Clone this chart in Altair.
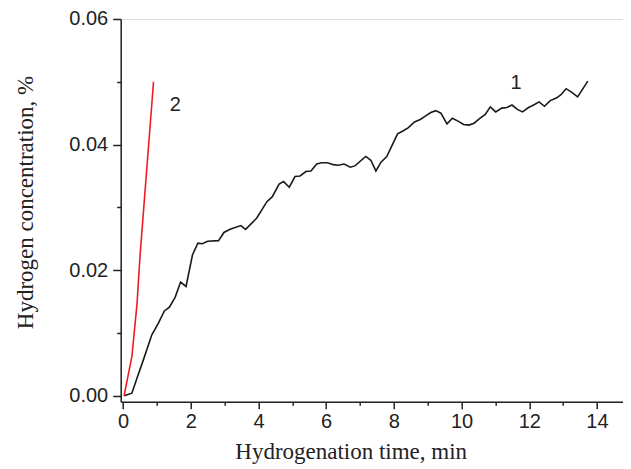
import altair as alt
import pandas as pd

# Curve 1 (black)
t1 = [0.03, 0.26, 0.40, 0.60, 0.85, 1.04, 1.22, 1.37, 1.54, 1.70,
      1.86, 2.05, 2.21, 2.34, 2.50, 2.82, 2.98, 3.16, 3.48, 3.62,
      3.95, 4.25, 4.41, 4.61, 4.74, 4.91, 5.08, 5.23, 5.40, 5.55,
      5.72, 5.87, 6.04, 6.21, 6.36, 6.53, 6.71, 6.85, 7.17, 7.32,
      7.47, 7.62, 7.79, 8.11, 8.28, 8.43, 8.61, 8.78, 8.92, 9.09,
      9.24, 9.39, 9.57, 9.73, 9.91, 10.06, 10.22, 10.37, 10.55, 10.70,
      10.85, 11.01, 11.19, 11.34, 11.49, 11.65, 11.80, 11.98, 12.13, 12.29,
      12.45, 12.62, 12.80, 12.93, 13.09, 13.26, 13.43, 13.73]
c1 = [0.0000, 0.0004, 0.0026, 0.0057, 0.0097, 0.0115, 0.0135, 0.0141, 0.0157, 0.0181,
      0.0174, 0.0224, 0.0243, 0.0242, 0.0246, 0.0247, 0.0260, 0.0265, 0.0271, 0.0265,
      0.0283, 0.0309, 0.0317, 0.0337, 0.0341, 0.0332, 0.0349, 0.0350, 0.0357, 0.0358,
      0.0369, 0.0371, 0.0371, 0.0368, 0.0367, 0.0369, 0.0364, 0.0366, 0.0381, 0.0375,
      0.0358, 0.0372, 0.0381, 0.0417, 0.0422, 0.0427, 0.0436, 0.0440, 0.0445, 0.0451,
      0.0454, 0.0450, 0.0433, 0.0442, 0.0437, 0.0432, 0.0431, 0.0434, 0.0442, 0.0448,
      0.0460, 0.0452, 0.0458, 0.0459, 0.0463, 0.0456, 0.0452, 0.0459, 0.0463, 0.0468,
      0.0461, 0.0470, 0.0474, 0.0479, 0.0489, 0.0483, 0.0476, 0.0501]

# Curve 2 (red)
t2 = [0.03, 0.26, 0.41, 0.50, 0.90]
c2 = [0.0000, 0.0062, 0.0145, 0.0222, 0.0500]

# Curve labels
label_text = ["1", "2"]
label_t = [11.61, 1.54]
label_c = [0.0498, 0.0463]

x_major = [0, 2, 4, 6, 8, 10, 12, 14]
x_minor = [1, 3, 5, 7, 9, 11, 13]
y_major = [0.0, 0.02, 0.04, 0.06]
y_minor = [0.01, 0.03, 0.05]

assert len(t1) == len(c1) and len(t2) == len(c2)

df = pd.DataFrame({
    "t": t1 + t2,
    "c": c1 + c2,
    "series": ["1"] * len(t1) + ["2"] * len(t2),
})
labels = pd.DataFrame({"label": label_text, "t": label_t, "c": label_c})

xscale = alt.Scale(domain=[-0.07, 14.77], nice=False, zero=False)
yscale = alt.Scale(domain=[-0.00096, 0.06], nice=False, zero=False)

axis_common = dict(
    grid=False,
    domainColor="#222222", domainWidth=1.5,
    tickColor="#222222", tickWidth=1.5,
    labelFont="Liberation Sans", labelFontSize=20, labelColor="#222222",
    titleFont="Liberation Serif", titleFontSize=23, titleFontWeight="normal",
    titleColor="#222222",
)

lines = alt.Chart(df).mark_line(strokeWidth=1.6).encode(
    x=alt.X("t:Q", scale=xscale,
            axis=alt.Axis(values=x_major, tickSize=7, labelPadding=3,
                          title="Hydrogenation time, min", orient="bottom",
                          titleX=230, titleY=57, titleBaseline="alphabetic",
                          titleAlign="center", format="d", **axis_common)),
    y=alt.Y("c:Q", scale=yscale,
            axis=alt.Axis(values=y_major, tickSize=8, labelPadding=5,
                          title="Hydrogen concentration, %", orient="left",
                          format=".2f", titleX=-88, titleY=183, titleAngle=270,
                          titleBaseline="alphabetic", titleAlign="center",
                          **axis_common)),
    color=alt.Color("series:N", scale=alt.Scale(domain=["1", "2"], range=["#1a1a1a", "#ee1c25"]),
                    legend=None),
    detail="series:N",
)

minor_common = dict(grid=False, domain=False, labels=False, title="",
                    tickColor="#222222", tickWidth=1.5)

texts = alt.Chart(labels).mark_text(
    font="Liberation Sans", fontSize=20, color="#222222", align="center", baseline="middle"
).encode(
    x=alt.X("t:Q", scale=xscale,
            axis=alt.Axis(values=x_minor, tickSize=3.5, orient="bottom", **minor_common)),
    y=alt.Y("c:Q", scale=yscale,
            axis=alt.Axis(values=y_minor, tickSize=4, orient="left", **minor_common)),
    text="label:N",
)

chart = alt.layer(lines, texts).resolve_axis(x="independent", y="independent").properties(
    width=502.3, height=382.7,
    padding={"left": 112.7, "top": 11, "right": 0, "bottom": 64},
    autosize=alt.AutoSizeParams(type="none"),
).configure_view(strokeWidth=0).configure(background="white")

chart.save("out.html", embed_options={"renderer": "svg", "actions": False})
